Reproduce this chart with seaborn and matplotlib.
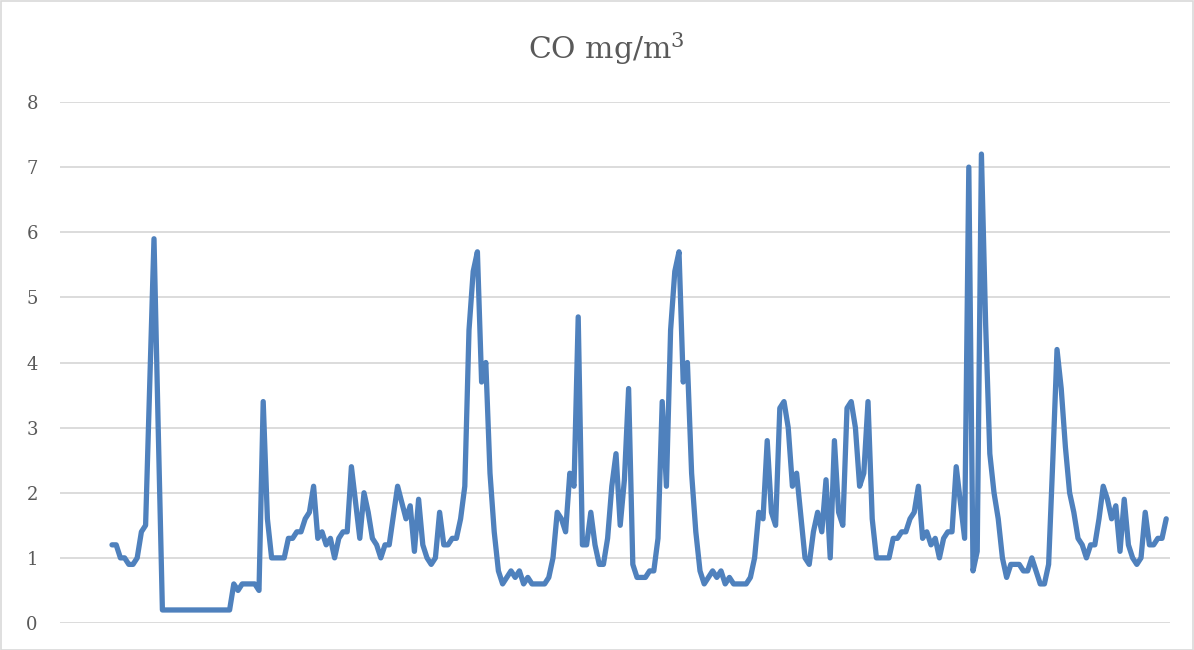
import matplotlib
matplotlib.use("Agg")
import matplotlib.pyplot as plt
import seaborn as sns
import pandas as pd
import numpy as np
from matplotlib.patches import Rectangle

title = "CO mg/m$^{3}$"
y_ticks = [0, 1, 2, 3, 4, 5, 6, 7, 8]

co_values = [
    1.2, 1.2, 1.0, 1.0, 0.9, 0.9, 1.0, 1.4, 1.5, 3.7, 5.9, 3.0, 0.2,
    0.2, 0.2, 0.2, 0.2, 0.2, 0.2, 0.2, 0.2, 0.2, 0.2, 0.2, 0.2, 0.2, 0.2, 0.2, 0.2,
    0.6, 0.5, 0.6, 0.6, 0.6, 0.6, 0.5, 3.4, 1.6,
    1.0, 1.0, 1.0, 1.0, 1.3, 1.3, 1.4, 1.4, 1.6, 1.7, 2.1, 1.3,
    1.4, 1.2, 1.3, 1.0, 1.3, 1.4, 1.4, 2.4, 1.85, 1.3,
    2.0, 1.7, 1.3, 1.2, 1.0, 1.2, 1.2, 1.65, 2.1, 1.85,
    1.6, 1.8, 1.1, 1.9, 1.2, 1.0, 0.9, 1.0, 1.7, 1.2,
    1.2, 1.3, 1.3, 1.6, 2.1, 4.5, 5.4, 5.7, 3.7, 4.0,
    2.3, 1.4, 0.8, 0.6, 0.7, 0.8, 0.7, 0.8, 0.6, 0.7,
    0.6, 0.6, 0.6, 0.6, 0.7, 1.0, 1.7, 1.6, 1.4, 2.3,
    2.1, 4.7, 1.2, 1.2, 1.7, 1.2, 0.9, 0.9, 1.3, 2.1,
    2.6, 1.5, 2.2, 3.6, 0.9, 0.7, 0.7, 0.7, 0.8, 0.8,
    1.3, 3.4, 2.1, 4.5, 5.4, 5.7, 3.7, 4.0, 2.3, 1.4,
    0.8, 0.6, 0.7, 0.8, 0.7, 0.8, 0.6, 0.7, 0.6, 0.6,
    0.6, 0.6, 0.7, 1.0, 1.7, 1.6, 2.8, 1.7, 1.5, 3.3,
    3.4, 3.0, 2.1, 2.3, 1.65, 1.0, 0.9, 1.4, 1.7, 1.4,
    2.2, 1.0, 2.8, 1.7, 1.5, 3.3, 3.4, 3.0, 2.1, 2.3,
    3.4, 1.6, 1.0, 1.0, 1.0, 1.0, 1.3, 1.3, 1.4, 1.4,
    1.6, 1.7, 2.1, 1.3, 1.4, 1.2, 1.3, 1.0, 1.3, 1.4,
    1.4, 2.4, 1.85, 1.3, 7.0, 0.8, 1.1, 7.2, 4.6, 2.6,
    2.0, 1.6, 1.0, 0.7, 0.9, 0.9, 0.9, 0.8, 0.8, 1.0,
    0.8, 0.6, 0.6, 0.9, 2.5, 4.2, 3.6, 2.7, 2.0, 1.7,
    1.3, 1.2, 1.0, 1.2, 1.2, 1.6, 2.1, 1.9, 1.6, 1.8,
    1.1, 1.9, 1.2, 1.0, 0.9, 1.0, 1.7, 1.2, 1.2, 1.3, 1.3, 1.6,
]

sample_index = list(range(len(co_values)))
df = pd.DataFrame({"sample": sample_index, "co": co_values})

sns.set_style("white")
plt.rcParams["font.family"] = ["DejaVu Serif"]
plt.rcParams["mathtext.fontset"] = "dejavuserif"

W, H = 1194, 650
fig = plt.figure(figsize=(W / 100, H / 100), dpi=100)
ax = fig.add_axes([60 / W, (H - 623) / H, (1170 - 60) / W, (623 - 102) / H])

for t in y_ticks:
    ax.axhline(t, color="#d9d9d9", lw=1.3, zorder=1)

sns.lineplot(data=df, x="sample", y="co", ax=ax, color="#4f81bd", lw=3.8,
             zorder=3, solid_joinstyle="round", solid_capstyle="round")

ax.set_ylim(0, 8)
ax.set_xlim(-12.38, 251.9)
ax.set_yticks(y_ticks)
ax.set_yticklabels([str(t) for t in y_ticks], fontsize=13, color="#595959")
ax.set_xticks([])
ax.tick_params(axis="y", length=0, pad=16)
ax.set_xlabel("")
ax.set_ylabel("")
for s in ax.spines.values():
    s.set_visible(False)

fig.text(606 / W, 1 - 49 / H, title, ha="center", va="center",
         fontsize=21.5, color="#595959")

fig.patches.append(Rectangle((0.5 / W, 0.5 / H), 1 - 1.5 / W, 1 - 1.5 / H,
                             transform=fig.transFigure, fill=False,
                             edgecolor="#d9d9d9", lw=1.2))

fig.savefig("out.png", dpi=100)
